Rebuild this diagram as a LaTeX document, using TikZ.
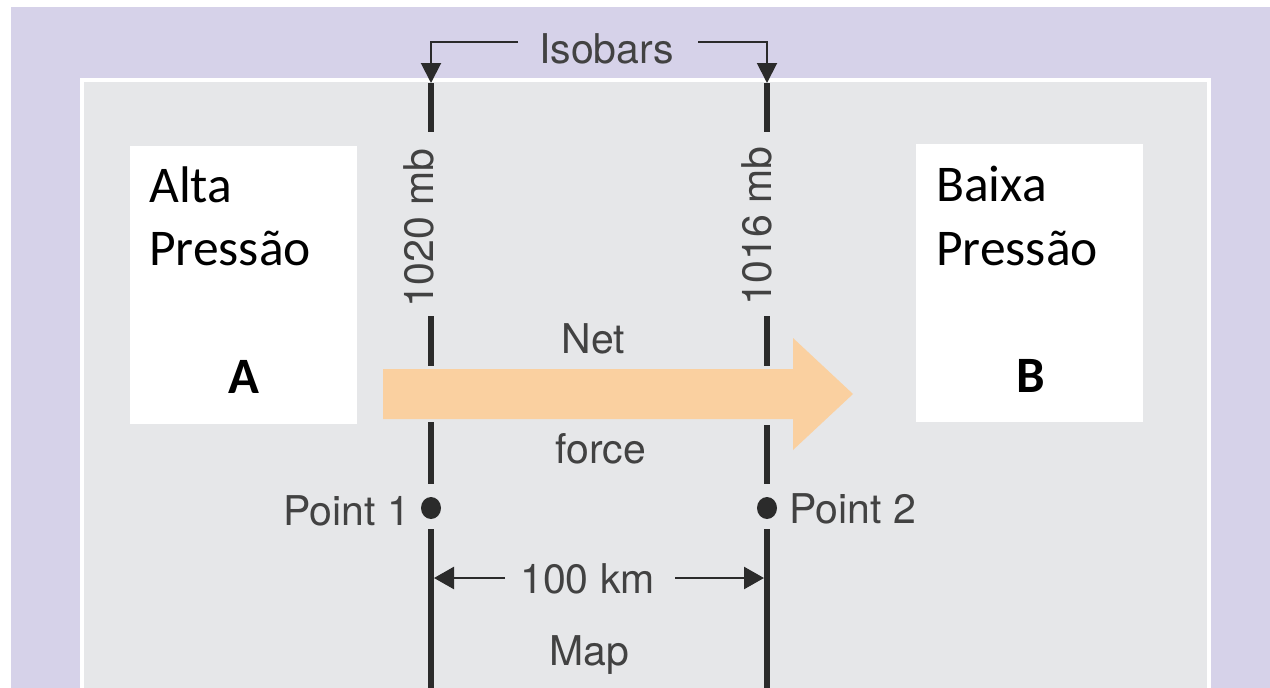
\documentclass[tikz,border=0pt]{standalone}
\usepackage{fontspec}
\setmainfont{TeX Gyre Heros}
\newfontfamily\boxfont{Carlito}
\usetikzlibrary{arrows.meta,shapes.geometric}
\definecolor{lav}{HTML}{D6D2E9}
\definecolor{panel}{HTML}{E6E7E9}
\definecolor{ink}{HTML}{2B2B2B}
\definecolor{lblc}{HTML}{424242}
\definecolor{netor}{HTML}{FAD0A0}
\begin{document}
\begin{tikzpicture}[x=1pt,y=-1pt,
  iso/.style={line width=5.5pt, draw=ink},
  brk/.style={line width=2pt, draw=ink, -{Triangle[length=20pt,width=20pt]}},
  dimarr/.style={line width=2.5pt, draw=ink, -{Triangle[length=20pt,width=22pt]}},
  lbl/.style={text=lblc, font=\fontsize{41}{49}\selectfont, inner sep=0pt},
  boxlbl/.style={text=black, font=\boxfont\fontsize{51.5}{62}\selectfont, inner sep=0pt, anchor=base west},
  boxbold/.style={text=black, font=\boxfont\bfseries\fontsize{51}{62}\selectfont, inner sep=0pt, anchor=base},
  wbox/.style={fill=white, draw=none, inner sep=0pt, anchor=north west, minimum width=227pt, minimum height=278pt},
  pdot/.style={ellipse, fill=ink, minimum width=20pt, minimum height=22pt, inner sep=0pt}]

\useasboundingbox (0,0) rectangle (1270,688);
\clip (0,0) rectangle (1270,688);
\fill[white] (0,0) rectangle (1270,688);
\fill[lav] (11,7) rectangle (1270,688);
\filldraw[fill=panel, draw=white, line width=4pt] (82,80) rectangle (1209,720);

% white boxes
\node[wbox] (boxA) at (130,146) {};
\node[wbox] (boxB) at (916,144) {};
\node[boxlbl] (altaT) at (149,202) {Alta};
\node[boxlbl] (altaP) at (149,265) {Pressão};
\node[boxbold] (letA) at (243.5,393) {A};
\node[boxlbl] (baixaT) at (936,201) {Baixa};
\node[boxlbl] (baixaP) at (936,265) {Pressão};
\node[boxbold] (letB) at (1030.5,392) {B};

% net force arrow
\fill[netor] (383,369) -- (793,369) -- (793,338) -- (853,394) -- (793,450) -- (793,419) -- (383,419) -- cycle;

% left isobar
\coordinate (L0) at (431,83);
\coordinate (L1) at (431,132);
\coordinate (L2) at (431,316);
\coordinate (L3) at (431,366);
\coordinate (L4) at (431,422);
\coordinate (L5) at (431,484);
\coordinate (L6) at (431,529);
\coordinate (L7) at (431,692);
\node[pdot] (P1) at (431,508) {};
\draw[iso] (L0) -- (L1);
\draw[iso] (L2) -- (L3);
\draw[iso] (L4) -- (L5);
\draw[iso] (L6) -- (L7);
\node[lbl, rotate=90, anchor=base west] (mbL) at (433,308) {1020 mb};

% right isobar
\coordinate (R0) at (767,83);
\coordinate (R1) at (767,132);
\coordinate (R2) at (767,316);
\coordinate (R3) at (767,366);
\coordinate (R4) at (767,425);
\coordinate (R5) at (767,484);
\coordinate (R6) at (767,529);
\coordinate (R7) at (767,692);
\node[pdot] (P2) at (767,508) {};
\draw[iso] (R0) -- (R1);
\draw[iso] (R2) -- (R3);
\draw[iso] (R4) -- (R5);
\draw[iso] (R6) -- (R7);
\node[lbl, rotate=90, anchor=base west] (mbR) at (771,306) {1016 mb};

% isobars bracket
\node[lbl, anchor=base] (isob) at (606.5,63) {Isobars};
\coordinate (bL) at (518,42);
\coordinate (bR) at (698,42);
\draw[brk] (bL) -| (L0);
\draw[brk] (bR) -| (R0);

% texts
\node[lbl, anchor=base] (net) at (593.5,353) {Net};
\node[lbl, anchor=base] (force) at (601,463) {force};
\node[lbl, anchor=base east] (pt1) at (410,525) {Point 1};
\node[lbl, anchor=base west] (pt2) at (789,523) {Point 2};
\node[lbl, anchor=base] (km) at (587.5,593) {100 km};
\node[lbl, anchor=base] (map) at (589,665) {Map};

% 100 km dimension
\coordinate (kL) at (505,578);
\coordinate (kR) at (675,578);
\coordinate (tL) at (434,578);
\coordinate (tR) at (764,578);
\draw[dimarr] (kL) -- (tL);
\draw[dimarr] (kR) -- (tR);
\end{tikzpicture}
\end{document}
